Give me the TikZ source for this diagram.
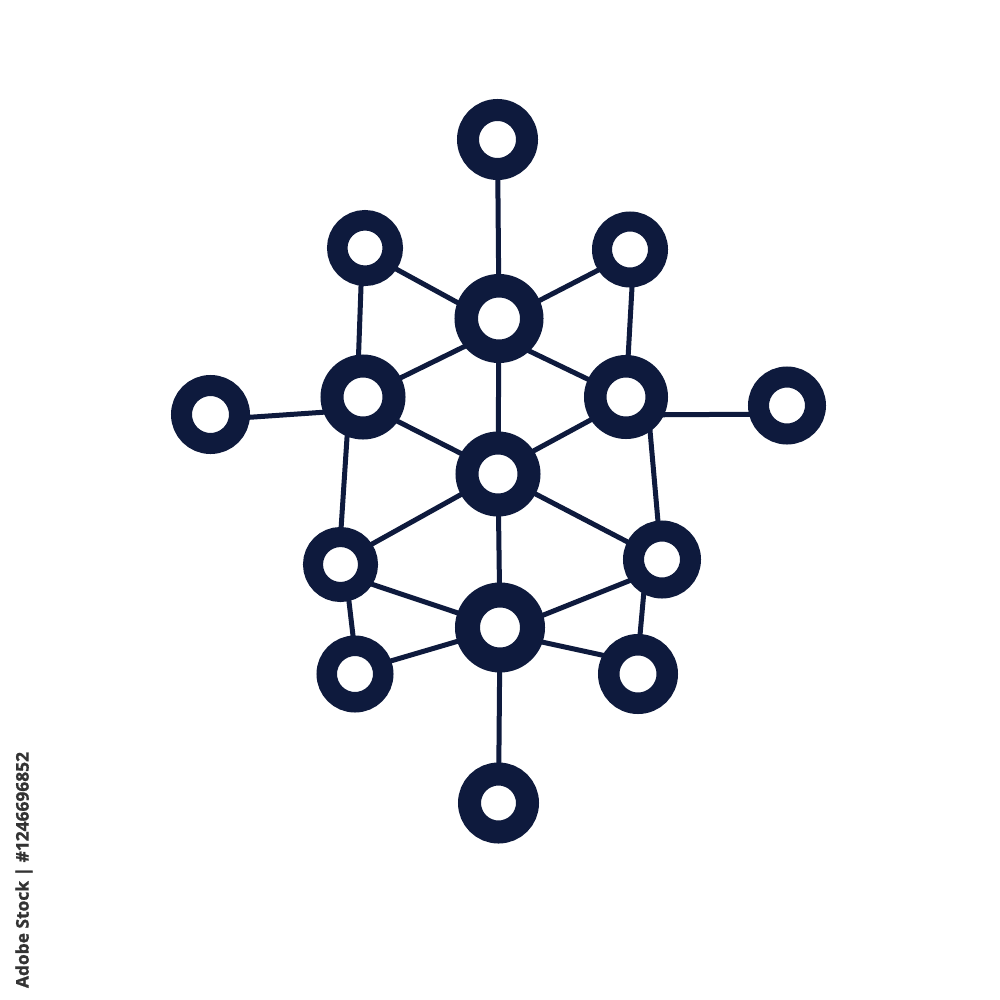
\documentclass[tikz,border=0pt]{standalone}
\usepackage{fontspec}
\usepackage{graphicx}
\newfontfamily\wmfont{Open Sans}[FakeBold=1.2]
\usetikzlibrary{backgrounds}
\definecolor{navy}{RGB}{14,26,61}
\begin{document}
\begin{tikzpicture}[x=0.2mm,y=-0.2mm,
  ring/.style 2 args={circle,draw=navy,fill=white,inner sep=0pt,line width={(#1-#2)*0.2mm},minimum size={(#1+#2)*0.2mm}},
  link/.style={draw=navy,line width=1mm,shorten <=-1.5mm,shorten >=-1.5mm}]
\useasboundingbox (0,0) rectangle (1000,1000);
\node[ring={40.5}{18.5}] (top) at (497.5,139.5) {};
\node[ring={38}{17.5}] (ul) at (365,248) {};
\node[ring={38}{18}] (ur) at (630,249.5) {};
\node[ring={44.5}{21}] (ct) at (499,318.5) {};
\node[ring={42.5}{19.5}] (ml) at (363,397) {};
\node[ring={42}{19.5}] (mr) at (626,397) {};
\node[ring={39.5}{18.5}] (fl) at (210.5,414.5) {};
\node[ring={39}{18}] (fr) at (787,405.5) {};
\node[ring={42.5}{19.5}] (c) at (498,474) {};
\node[ring={37.5}{17.5}] (ll) at (340.5,564.5) {};
\node[ring={39}{18}] (lr) at (662,559.5) {};
\node[ring={45}{20}] (cb) at (500,627.5) {};
\node[ring={38.5}{18}] (bl) at (355,674) {};
\node[ring={40}{18.5}] (br) at (638,674) {};
\node[ring={40.5}{17.5}] (bot) at (498.5,803) {};
\node[rotate=90,text=black!80,font=\wmfont\bfseries,inner sep=0pt] (wm) at (24,870) {\resizebox{47.2mm}{!}{Adobe Stock | \#1246696852}};
\begin{pgfonlayer}{background}
\fill[white] (0,0) rectangle (1000,1000);
\draw[link] (top) -- (ct);
\draw[link] (ul.326) -- (ct.159);
\draw[link] (ur.213) -- (ct.24);
\draw[link] (ul.264) -- (ml.96);
\draw[link] (ur.273) -- (mr.87);
\draw[link] (ml.27) -- (ct.219);
\draw[link] (ct.313) -- (mr.155);
\draw[link] (ct) -- (c);
\draw[link] (fl.356) -- (ml.201);
\draw[link] (mr.335) -- (fr.193);
\draw[link] (ml.325) -- (c.151);
\draw[link] (mr.213) -- (c.33);
\draw[link] (c.209) -- (ll.33);
\draw[link] (c.332) -- (lr.153);
\draw[link] (c) -- (cb);
\draw[link] (ll.328) -- (cb.161);
\draw[link] (lr.213) -- (cb.16);
\draw[link] (ll.283) -- (bl.93);
\draw[link] (lr.242) -- (br.87);
\draw[link] (bl.20) -- (cb.198);
\draw[link] (br.152) -- (cb.341);
\draw[link] (cb) -- (bot);
\draw[link] (ml.248) -- (ll.89);
\draw[link] (mr.305) -- (lr.96);
\end{pgfonlayer}
\end{tikzpicture}
\end{document}
